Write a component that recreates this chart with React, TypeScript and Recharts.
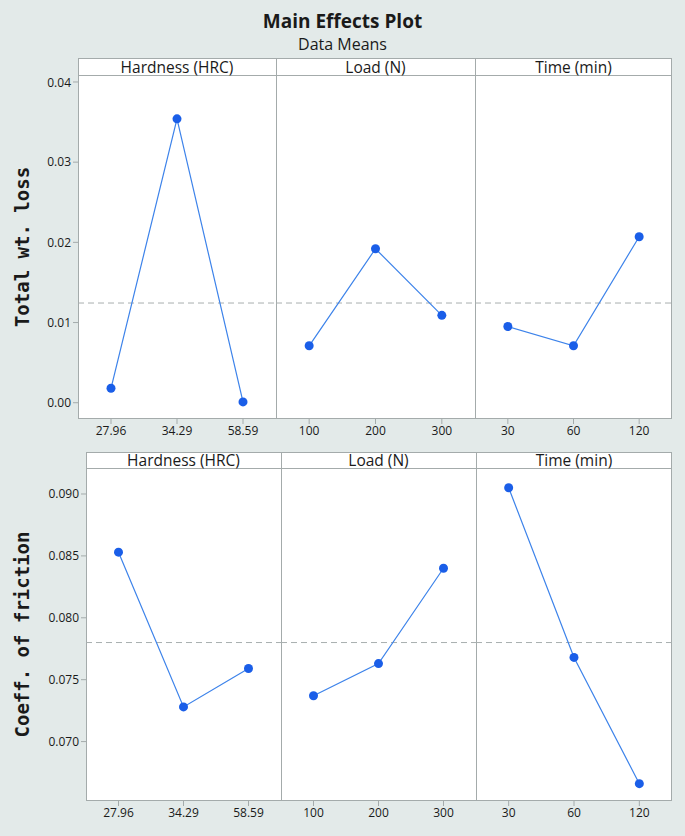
// Main Effects Plot (Minitab style): two response rows x three factor panels
import { LineChart, Line, XAxis, YAxis, ReferenceLine } from "recharts";

const factorNames = ["Hardness (HRC)", "Load (N)", "Time (min)"];
const hardnessLevels = ["27.96", "34.29", "58.59"];
const loadLevels = ["100", "200", "300"];
const timeLevels = ["30", "60", "120"];

const wtLossHardness = [0.0018, 0.0354, 0.0001];
const wtLossLoad = [0.0071, 0.0192, 0.0109];
const wtLossTime = [0.0095, 0.0071, 0.0207];

const cofHardness = [0.0853, 0.0728, 0.0759];
const cofLoad = [0.0737, 0.0763, 0.0840];
const cofTime = [0.0905, 0.0768, 0.0666];

const wtLossTicks = [0, 0.01, 0.02, 0.03, 0.04];
const cofTicks = [0.07, 0.075, 0.08, 0.085, 0.09];

const BG = "#e3eae9";
const FRAME = "#a4abab";
const LINE = "#3d83ea";
const DOT = "#1a5ee8";
const TEXT = "#1a1a1a";
const FONT = "'Open Sans', sans-serif";

type RowSpec = {
  label: string;
  headerTop: number;
  plotTop: number;
  plotBottom: number;
  edges: number[]; // left, divider, divider, right
  domain: [number, number];
  ticks: number[];
  digits: number;
  series: number[][];
};

const levels = [hardnessLevels, loadLevels, timeLevels];

const rows: RowSpec[] = [
  {
    label: "Total wt. loss",
    headerTop: 58,
    plotTop: 75,
    plotBottom: 419,
    edges: [78, 276, 475, 672],
    domain: [-0.00203, 0.04087],
    ticks: wtLossTicks,
    digits: 2,
    series: [wtLossHardness, wtLossLoad, wtLossTime],
  },
  {
    label: "Coeff. of friction",
    headerTop: 452,
    plotTop: 468,
    plotBottom: 801,
    edges: [86, 281, 476, 672],
    domain: [0.0652, 0.0921],
    ticks: cofTicks,
    digits: 3,
    series: [cofHardness, cofLoad, cofTime],
  },
];

// grand mean of the response (same for every factor in a balanced design)
function grandMean(series: number[][]) {
  const vals = series[0];
  return vals.reduce((a, b) => a + b, 0) / vals.length;
}

const tickStyle = { fontSize: 12, fill: TEXT, fontFamily: FONT };

function Dot(props: any) {
  const { cx, cy } = props;
  if (cx == null || cy == null) return null;
  return <circle cx={cx} cy={cy} r={4.5} fill={DOT} stroke="none" />;
}

function Row({ row }: { row: RowSpec }) {
  const [left, d1, d2, right] = row.edges;
  const plotH = row.plotBottom - row.plotTop;
  const grand = grandMean(row.series);
  const bounds = [
    [left, d1],
    [d1, d2],
    [d2, right],
  ];

  return (
    <>
      {/* frame, header strip and dividers */}
      <div
        style={{
          position: "absolute",
          left,
          top: row.headerTop,
          width: right - left,
          height: row.plotBottom - row.headerTop,
          background: "#fff",
          border: `1px solid ${FRAME}`,
          boxSizing: "border-box",
        }}
      />
      <div
        style={{
          position: "absolute",
          left,
          top: row.plotTop,
          width: right - left,
          height: 1,
          background: FRAME,
        }}
      />
      {[d1, d2].map((x) => (
        <div
          key={x}
          style={{
            position: "absolute",
            left: x,
            top: row.headerTop,
            width: 1,
            height: row.plotBottom - row.headerTop,
            background: FRAME,
          }}
        />
      ))}
      {bounds.map(([a, b], i) => (
        <div
          key={"h" + i}
          style={{
            position: "absolute",
            left: a,
            top: row.headerTop,
            width: b - a,
            height: row.plotTop - row.headerTop,
            lineHeight: `${row.plotTop - row.headerTop + 1}px`,
            textAlign: "center",
            fontFamily: FONT,
            fontSize: 15.5,
            color: TEXT,
          }}
        >
          {factorNames[i]}
        </div>
      ))}

      {bounds.map(([a, b], i) => {
        const first = i === 0;
        const data = levels[i].map((lab, k) => ({ x: k, level: lab, value: row.series[i][k] }));
        const chartLeft = first ? 0 : a;
        const w = b - chartLeft;
        return (
          <div key={"c" + i} style={{ position: "absolute", left: chartLeft, top: row.plotTop }}>
            <LineChart
              width={w}
              height={plotH + 30}
              data={data}
              margin={{ top: 0, right: 0, bottom: 0, left: 0 }}
            >
              <XAxis
                type="number"
                dataKey="x"
                domain={[-0.5, 2.5]}
                ticks={[0, 1, 2]}
                tickFormatter={(v: number) => levels[i][v]}
                axisLine={false}
                tickLine={{ stroke: FRAME }}
                tickSize={5}
                tick={tickStyle}
                height={30}
              />
              <YAxis
                hide={!first}
                width={first ? a : 0}
                domain={row.domain}
                allowDataOverflow
                ticks={row.ticks}
                tickFormatter={(v: number) => v.toFixed(row.digits)}
                axisLine={false}
                tickLine={{ stroke: FRAME }}
                tickSize={5}
                tick={tickStyle}
                label={{
                  value: row.label,
                  angle: -90,
                  position: "insideLeft",
                  offset: 22,
                  style: {
                    textAnchor: "middle",
                    fontFamily: "'DejaVu Sans Mono', monospace",
                    fontWeight: 700,
                    fontSize: 19,
                    fill: TEXT,
                  },
                }}
              />
              <ReferenceLine y={grand} stroke="#a9afaf" strokeDasharray="6 4" />
              <Line
                type="linear"
                dataKey="value"
                stroke={LINE}
                strokeWidth={1.2}
                dot={<Dot />}
                activeDot={false}
                isAnimationActive={false}
              />
            </LineChart>
          </div>
        );
      })}
    </>
  );
}

export default function App() {
  return (
    <div
      style={{
        position: "absolute",
        left: 0,
        top: 0,
        width: 685,
        height: 836,
        background: BG,
        fontFamily: FONT,
      }}
    >
      <div
        style={{
          position: "absolute",
          left: 0,
          top: 8,
          width: 685,
          textAlign: "center",
          fontSize: 19,
          fontWeight: 700,
          color: TEXT,
        }}
      >
        Main Effects Plot
      </div>
      <div
        style={{
          position: "absolute",
          left: 0,
          top: 33,
          width: 685,
          textAlign: "center",
          fontSize: 16,
          color: TEXT,
        }}
      >
        Data Means
      </div>
      {rows.map((r) => (
        <Row key={r.label} row={r} />
      ))}
    </div>
  );
}
